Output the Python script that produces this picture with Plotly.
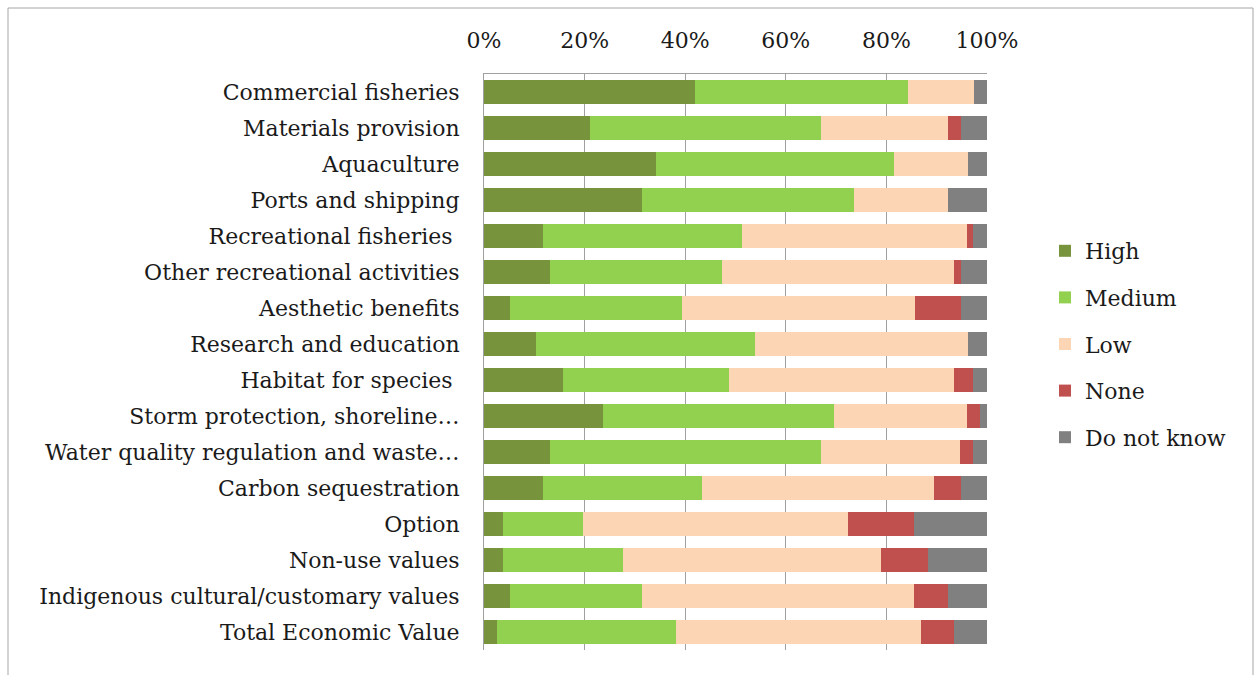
import plotly.graph_objects as go

categories = [
    "Commercial fisheries",
    "Materials provision",
    "Aquaculture",
    "Ports and shipping",
    "Recreational fisheries\u00a0",
    "Other recreational activities",
    "Aesthetic benefits",
    "Research and education",
    "Habitat for species\u00a0",
    "Storm protection, shoreline\u2026",
    "Water quality regulation and waste\u2026",
    "Carbon sequestration",
    "Option",
    "Non-use values",
    "Indigenous cultural/customary values",
    "Total Economic Value",
]

high = [42.0, 21.0, 34.2, 31.5, 11.8, 13.1, 5.2, 10.3, 15.7, 23.6, 13.1, 11.8, 3.8, 3.8, 5.2, 2.5]
medium = [42.2, 46.0, 47.4, 42.1, 39.5, 34.2, 34.2, 43.6, 33.0, 46.0, 53.9, 31.6, 15.9, 23.8, 26.3, 35.6]
low = [13.3, 25.2, 14.6, 18.6, 44.8, 46.2, 46.1, 42.3, 44.8, 26.5, 27.7, 46.1, 52.7, 51.4, 54.0, 48.8]
none = [0.0, 2.6, 0.0, 0.0, 1.2, 1.3, 9.2, 0.0, 3.8, 2.6, 2.6, 5.3, 13.1, 9.2, 6.7, 6.6]
dont_know = [2.5, 5.2, 3.8, 7.8, 2.7, 5.2, 5.2, 3.8, 2.7, 1.3, 2.7, 5.2, 14.5, 11.8, 7.8, 6.5]

series = [
    ("High", high, "#77933C"),
    ("Medium", medium, "#92D050"),
    ("Low", low, "#FCD5B5"),
    ("None", none, "#C0504D"),
    ("Do not know", dont_know, "#808080"),
]

FONT = "DejaVu Serif"
FS = 22

fig = go.Figure()
for name, vals, color in series:
    fig.add_trace(go.Bar(
        y=categories, x=vals, name=name, orientation="h",
        marker=dict(color=color, line=dict(width=0)),
        legendgroup=name,
    ))

W, H = 1255, 675
L, R, T, B = 484, 268, 74, 25
pw = W - L - R
ph = H - T - B

def px(xp):
    return (xp - L) / pw

def py(yp):
    return (H - B - yp) / ph

fig.update_layout(
    width=W, height=H,
    barmode="stack", barnorm="percent",
    bargap=0.36,
    margin=dict(l=L, r=R, t=T, b=B, pad=0),
    paper_bgcolor="white", plot_bgcolor="white",
    font=dict(family=FONT, size=FS, color="#1a1a1a"),
    legend=dict(
        x=px(1045), y=py(230), xanchor="left", yanchor="top",
        font=dict(size=FS, family=FONT),
        tracegroupgap=15, traceorder="grouped",
        bgcolor="rgba(0,0,0,0)",
    ),
    xaxis=dict(
        side="top", range=[0, 100], tickvals=[0, 20, 40, 60, 80, 100],
        ticktext=["0%", "20%", "40%", "60%", "80%", "100%"],
        showgrid=True, gridcolor="#a0a0a0", gridwidth=1,
        showline=True, linecolor="#a0a0a0", linewidth=1,
        zeroline=False, ticks="", ticklabelstandoff=16,
        tickfont=dict(size=FS, family=FONT),
        fixedrange=True,
    ),
    yaxis=dict(
        autorange="reversed", categoryorder="array", categoryarray=categories,
        showline=True, linecolor="#a0a0a0", linewidth=1,
        showgrid=False, ticks="", ticklabelstandoff=19,
        tickfont=dict(size=FS, family=FONT),
        fixedrange=True,
    ),
    shapes=[dict(
        type="rect", xref="paper", yref="paper",
        x0=px(8), x1=px(1253), y0=py(690), y1=py(8),
        line=dict(color="#a6a6a6", width=1), fillcolor="rgba(0,0,0,0)",
        layer="below",
    )],
)

fig.write_html(
    "out.html",
    config={"displayModeBar": False},
    post_script="document.body.style.margin='0';document.body.style.overflow='hidden';",
)
